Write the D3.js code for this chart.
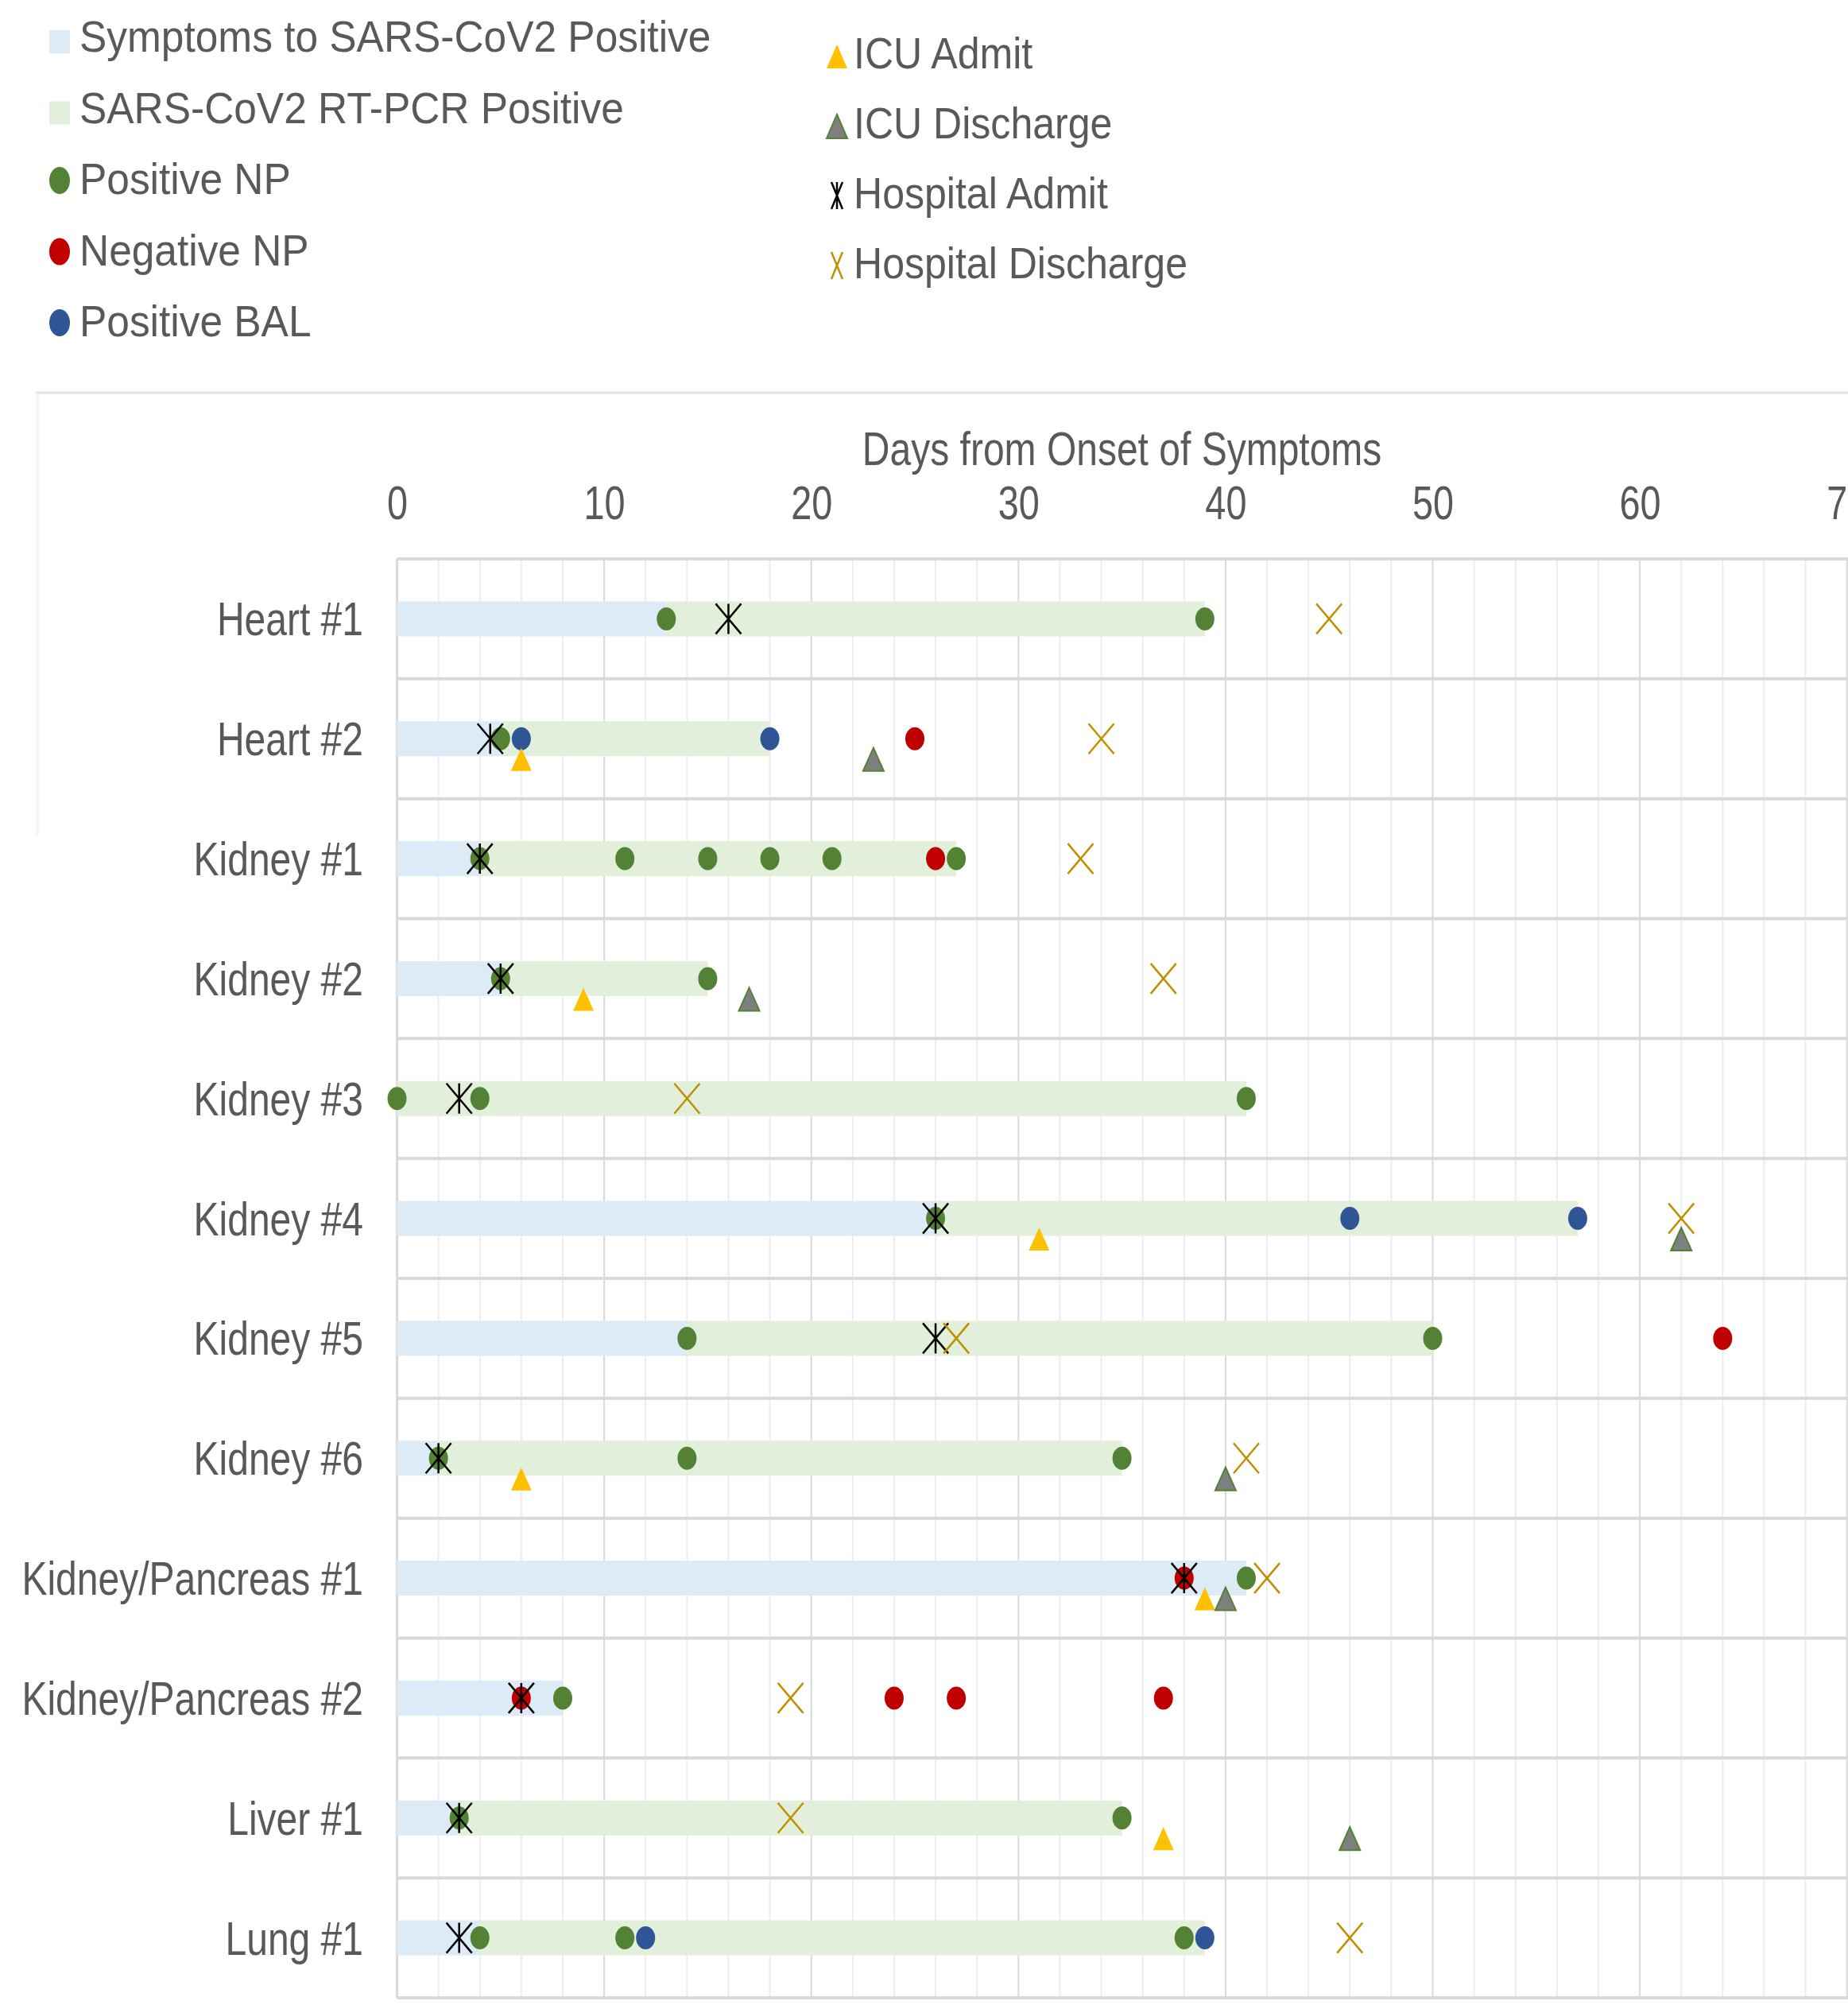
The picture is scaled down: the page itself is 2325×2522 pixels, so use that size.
<!DOCTYPE html>
<html>
<head>
<meta charset="utf-8">
<script src="https://cdn.jsdelivr.net/npm/d3@7"></script>
<style>
  body { margin: 0; background: #fff; }
  svg { display: block; font-family: "Liberation Sans", Arial, sans-serif; }
</style>
</head>
<body>
<div id="chart"></div>
<script>
// patients (rows, top to bottom)
const patients = ["Heart #1", "Heart #2", "Kidney #1", "Kidney #2", "Kidney #3", "Kidney #4",
    "Kidney #5", "Kidney #6", "Kidney/Pancreas #1", "Kidney/Pancreas #2", "Liver #1", "Lung #1"];

// stacked bars: days from symptoms to first positive, then days PCR positive
const symptomDays = [13, 5, 4, 5, 0, 26, 14, 2, 41, 8, 3, 4];
const pcrDays = [26, 13, 23, 10, 41, 31, 36, 33, 0, 0, 32, 35];

// test results (day of test)
const positiveNP = [[13, 39], [5], [4, 11, 15, 18, 21, 27], [5, 15], [0, 4, 41], [26],
    [14, 50], [2, 14, 35], [41], [8], [3, 35], [4, 11, 38]];
const negativeNP = [[], [25], [26], [], [], [], [64], [], [38], [6, 24, 27, 37], [], []];
const positiveBAL = [[], [6, 18], [], [], [], [46, 57], [], [], [], [], [], [12, 39]];

// events
const icuAdmit = [null, 6, null, 9, null, 31, null, 6, 39, null, 37, null];
const icuDischarge = [null, 23, null, 17, null, 62, null, 40, 40, null, 46, null];
const hospitalAdmit = [16, 4.5, 4, 5, 3, 26, 26, 2, 38, 6, 3, 3];
const hospitalDischarge = [45, 34, 33, 37, 14, 62, 27, 41, 42, 19, 19, 46];

const xTicks = [0, 10, 20, 30, 40, 50, 60, 70];

const COL = {
    symptoms: "#DDEBF7",
    pcr: "#E2EFDA",
    posNP: "#548235",
    negNP: "#C00000",
    bal: "#2F5597",
    icuAdmit: "#FFC000",
    icuDis: "#7F7F7F",
    hospAdmit: "#000000",
    hospDis: "#BF9000",
    text: "#595959",
    grid: "#D9D9D9",
    minor: "#EDEDED"
};

const W = 2325, H = 2522;
const svg = d3.select("#chart").append("svg")
    .attr("width", W).attr("height", H);

// scales
const x = d3.scaleLinear().domain([0, 70]).range([499.5, 2323.7]);
const y = d3.scaleBand().domain(patients).range([703, 2513]);
const cy = d => y(d) + y.bandwidth() / 2;

// ---------------- legend ----------------
svg.append("line")
    .attr("x1", 45).attr("x2", W).attr("y1", 494).attr("y2", 494)
    .attr("stroke", "#E3E3E3").attr("stroke-width", 3);
svg.append("line")
    .attr("x1", 47).attr("x2", 47).attr("y1", 494).attr("y2", 1050)
    .attr("stroke", "#F3F3F3").attr("stroke-width", 3);

const crossPath = (w, h, star) =>
    `M${-w},${-h}L${w},${h}M${-w},${h}L${w},${-h}` + (star ? `M0,${-h}L0,${h}` : "");
const triPath = (w, h) => `M0,${-h}L${w},${h}L${-w},${h}Z`;

const legendLeft = [
    { label: "Symptoms to SARS-CoV2 Positive", type: "rect", color: COL.symptoms },
    { label: "SARS-CoV2 RT-PCR Positive", type: "rect", color: COL.pcr },
    { label: "Positive NP", type: "dot", color: COL.posNP },
    { label: "Negative NP", type: "dot", color: COL.negNP },
    { label: "Positive BAL", type: "dot", color: COL.bal }
];
const legendRight = [
    { label: "ICU Admit", type: "tri", color: COL.icuAdmit },
    { label: "ICU Discharge", type: "tri", color: COL.icuDis, stroke: COL.posNP },
    { label: "Hospital Admit", type: "star", color: COL.hospAdmit },
    { label: "Hospital Discharge", type: "x", color: COL.hospDis }
];

function drawLegend(items, mx, tx, y0, step, sx) {
    items.forEach((it, i) => {
        const by = y0 + i * step;
        const g = svg.append("g");
        if (it.type === "rect") {
            g.append("rect").attr("x", mx - 13).attr("y", by - 27)
                .attr("width", 26).attr("height", 29).attr("fill", it.color);
        } else if (it.type === "dot") {
            g.append("ellipse").attr("cx", mx).attr("cy", by - 17)
                .attr("rx", 13).attr("ry", 17).attr("fill", it.color);
        } else if (it.type === "tri") {
            g.append("path").attr("transform", `translate(${mx},${by - 15})`)
                .attr("d", triPath(13, 15)).attr("fill", it.color)
                .attr("stroke", it.stroke || "none").attr("stroke-width", 2);
        } else {
            g.append("path").attr("transform", `translate(${mx},${by - 16})`)
                .attr("d", crossPath(7, 17, it.type === "star"))
                .attr("fill", "none").attr("stroke", it.color).attr("stroke-width", 2.5);
        }
        g.append("text")
            .attr("transform", `translate(${tx},${by}) scale(${sx},1)`)
            .attr("font-size", 55).attr("fill", COL.text)
            .text(it.label);
    });
}
drawLegend(legendLeft, 75, 100, 65, 89.5, 0.935);
drawLegend(legendRight, 1053, 1074, 86, 88, 0.91);

// ---------------- grid ----------------
const plot = svg.append("g");

plot.append("g").selectAll("line")
    .data(x.ticks(35).filter(d => d % 10 !== 0))
    .join("line")
    .attr("x1", d => x(d)).attr("x2", d => x(d))
    .attr("y1", y.range()[0]).attr("y2", y.range()[1])
    .attr("stroke", COL.minor).attr("stroke-width", 2);

plot.append("g").selectAll("line")
    .data(xTicks)
    .join("line")
    .attr("x1", d => x(d)).attr("x2", d => x(d))
    .attr("y1", y.range()[0]).attr("y2", y.range()[1])
    .attr("stroke", COL.grid).attr("stroke-width", d => d === 0 ? 3 : 2);

plot.append("g").selectAll("line")
    .data(patients.map(p => y(p)).concat([y.range()[1]]))
    .join("line")
    .attr("x1", x(0)).attr("x2", W)
    .attr("y1", d => d).attr("y2", d => d)
    .attr("stroke", COL.grid).attr("stroke-width", 4);

// ---------------- axis ----------------
const axis = svg.append("g")
    .attr("transform", `translate(0,653)`)
    .call(d3.axisTop(x).tickValues(xTicks).tickSize(0).tickPadding(0));
axis.select(".domain").remove();
axis.selectAll("text")
    .attr("y", 0).attr("dy", 0)
    .attr("font-size", 60).attr("fill", COL.text)
    .attr("font-family", "Liberation Sans, Arial, sans-serif")
    .attr("transform", "scale(0.78,1)");

svg.append("text")
    .attr("transform", `translate(${x(35)},585) scale(0.8,1)`)
    .attr("text-anchor", "middle")
    .attr("font-size", 60).attr("fill", COL.text)
    .text("Days from Onset of Symptoms");

// row labels
svg.append("g").selectAll("text")
    .data(patients)
    .join("text")
    .attr("transform", d => `translate(457,${cy(d) + 21}) scale(0.8,1)`)
    .attr("text-anchor", "end")
    .attr("font-size", 60).attr("fill", COL.text)
    .text(d => d);

// ---------------- bars ----------------
const barH = 44;
plot.append("g").selectAll("rect")
    .data(patients)
    .join("rect")
    .attr("x", x(0))
    .attr("y", d => cy(d) - barH / 2)
    .attr("width", (d, i) => x(symptomDays[i]) - x(0))
    .attr("height", barH)
    .attr("fill", COL.symptoms);

plot.append("g").selectAll("rect")
    .data(patients)
    .join("rect")
    .attr("x", (d, i) => x(symptomDays[i]))
    .attr("y", d => cy(d) - barH / 2)
    .attr("width", (d, i) => x(symptomDays[i] + pcrDays[i]) - x(symptomDays[i]))
    .attr("height", barH)
    .attr("fill", COL.pcr);

// ---------------- markers ----------------
function flat(list) {
    const out = [];
    list.forEach((days, i) => days.forEach(v => out.push({ p: patients[i], v })));
    return out;
}
function single(list) {
    return list.map((v, i) => ({ p: patients[i], v })).filter(d => d.v !== null);
}

function dots(list, color) {
    plot.append("g").selectAll("ellipse")
        .data(flat(list))
        .join("ellipse")
        .attr("cx", d => x(d.v)).attr("cy", d => cy(d.p))
        .attr("rx", 12).attr("ry", 14.5)
        .attr("fill", color);
}
dots(positiveNP, COL.posNP);
dots(negativeNP, COL.negNP);
dots(positiveBAL, COL.bal);

function tris(list, color, stroke) {
    plot.append("g").selectAll("path")
        .data(single(list))
        .join("path")
        .attr("transform", d => `translate(${x(d.v)},${cy(d.p) + 26})`)
        .attr("d", triPath(13, 14.5))
        .attr("fill", color)
        .attr("stroke", stroke || "none").attr("stroke-width", 2);
}
tris(icuAdmit, COL.icuAdmit);
tris(icuDischarge, COL.icuDis, COL.posNP);

function crosses(list, color, star) {
    plot.append("g").selectAll("path")
        .data(single(list))
        .join("path")
        .attr("transform", d => `translate(${x(d.v)},${cy(d.p)})`)
        .attr("d", crossPath(16, 19, star))
        .attr("fill", "none")
        .attr("stroke", color).attr("stroke-width", 2.5);
}
crosses(hospitalAdmit, COL.hospAdmit, true);
crosses(hospitalDischarge, COL.hospDis, false);
</script>
</body>
</html>
